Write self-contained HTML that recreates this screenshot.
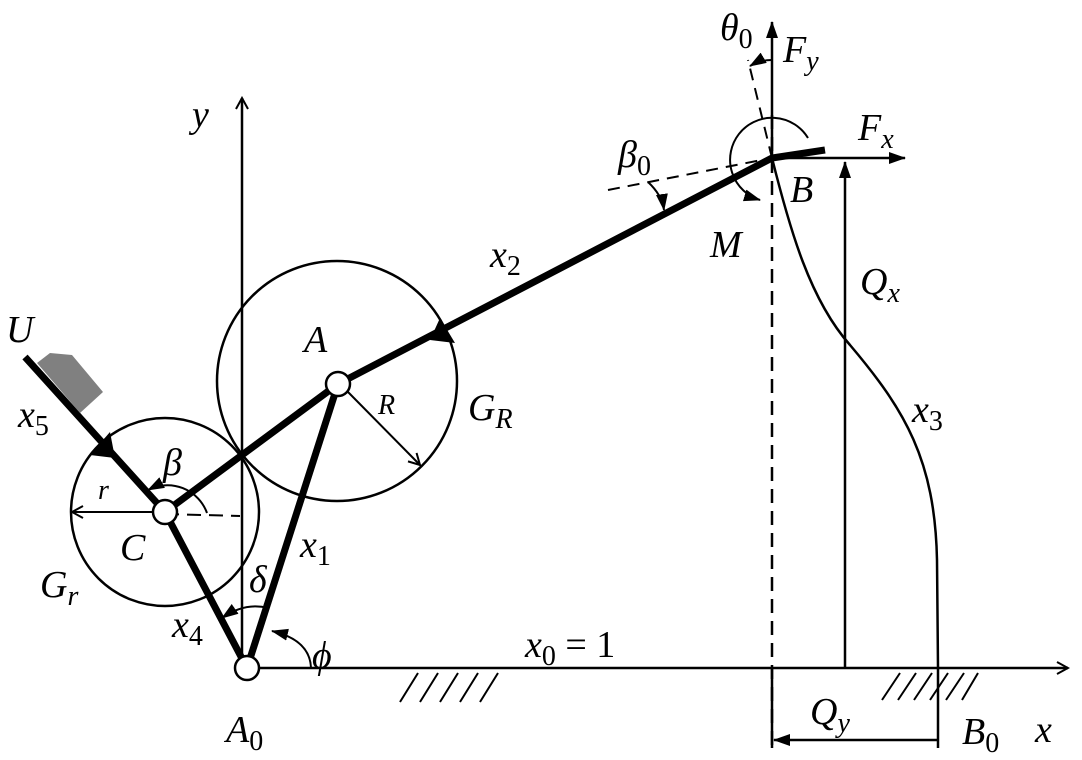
<!DOCTYPE html>
<html><head><meta charset="utf-8"><style>
html,body{margin:0;padding:0;background:#fff;}
svg{display:block;}
text{font-family:"Liberation Serif",serif;font-style:italic;fill:#000;}
.s{font-style:normal;}
</style></head><body>
<svg width="1082" height="760" viewBox="0 0 1082 760" xmlns="http://www.w3.org/2000/svg">
<defs>
<marker id="oa" markerWidth="14" markerHeight="14" refX="12" refY="7" orient="auto" markerUnits="userSpaceOnUse"><path d="M1,1 L12,7 L1,13" fill="none" stroke="#000" stroke-width="2"/></marker>
<marker id="fa" markerWidth="18" markerHeight="14" refX="16" refY="7" orient="auto" markerUnits="userSpaceOnUse"><path d="M0,1 L17,7 L0,13 Z" fill="#000"/></marker>
</defs>
<g stroke="#000" fill="none" stroke-width="2.5">
<line x1="242" y1="668" x2="242" y2="98" marker-end="url(#oa)"/>
<line x1="247" y1="668" x2="1068" y2="668" marker-end="url(#oa)"/>
<path d="M400,702 L418,673 M420,702 L438,673 M440,702 L458,673 M460,702 L478,673 M480,702 L498,673" stroke-width="2"/>
<path d="M882,700 L900,673 M898,700 L916,673 M914,700 L932,673 M930,700 L948,673 M946,700 L964,673 M962,700 L978,673" stroke-width="2"/>
<circle cx="337" cy="381" r="120"/>
<circle cx="165" cy="512" r="94"/>
<line x1="772" y1="115" x2="772" y2="745" stroke-dasharray="14,8"/>
<line x1="608" y1="190" x2="772" y2="158" stroke-dasharray="12,8" stroke-width="2"/>
<line x1="772" y1="158" x2="748" y2="60" stroke-dasharray="12,8" stroke-width="2"/>
<line x1="165" y1="514" x2="240" y2="516" stroke-dasharray="14,8" stroke-width="2"/>
<line x1="772" y1="158" x2="772" y2="22" marker-end="url(#fa)"/>
<line x1="772" y1="158" x2="905" y2="158" marker-end="url(#fa)"/>
<line x1="845" y1="668" x2="845" y2="162" marker-end="url(#fa)"/>
<line x1="938" y1="668" x2="938" y2="748"/>
<line x1="772" y1="668" x2="772" y2="748"/>
<line x1="938" y1="740" x2="774" y2="740" marker-end="url(#fa)"/>
<path d="M772,158 C790,230 810,300 850,345 C905,410 935,460 937,560 L938,668"/>
<line x1="152" y1="512" x2="72" y2="512" marker-end="url(#oa)" stroke-width="2"/>
<line x1="348" y1="392" x2="420" y2="465" marker-end="url(#oa)" stroke-width="2"/>
<path d="M772,60 Q760,60 750,66" marker-end="url(#fa)" stroke-width="2"/>
<path d="M648,182 Q662,195 664,210" marker-end="url(#fa)" stroke-width="2"/>
<path d="M808,138 A42,42 0 1 0 760,200" marker-end="url(#fa)" stroke-width="2"/>
<path d="M207,513 A42,42 0 0 0 148,490" marker-end="url(#fa)" stroke-width="2"/>
<path d="M268,608 Q245,602 222,618" marker-end="url(#fa)" stroke-width="2"/>
<path d="M311,668 Q310,640 272,631" marker-end="url(#fa)" stroke-width="2"/>
<g stroke-width="7" stroke-linecap="butt">
<line x1="247" y1="668" x2="338" y2="384"/>
<line x1="247" y1="668" x2="165" y2="512"/>
<line x1="165" y1="512" x2="338" y2="384"/>
<polyline points="338,384 772,158 825,150"/>
<line x1="165" y1="512" x2="25" y2="357"/>
</g>
</g>
<path d="M440,318 L455,343 L430,340 Z" fill="#000"/>
<path d="M110,432 L115,458 L90,455 Z" fill="#000"/>
<polygon points="37,363 50,353 72,355 103,392 80,413" fill="#808080"/>
<g fill="#fff" stroke="#000" stroke-width="2.5">
<circle cx="338" cy="384" r="12"/>
<circle cx="165" cy="512" r="12"/>
<circle cx="247" cy="668" r="12"/>
</g>
<g font-size="38">
<text x="192" y="127">y</text>
<text x="1035" y="742">x</text>
<text x="304" y="352">A</text>
<text x="120" y="560">C</text>
<text x="226" y="742">A<tspan font-size="28" dy="8" class="s">0</tspan></text>
<text x="962" y="744">B<tspan font-size="28" dy="8" class="s">0</tspan></text>
<text x="790" y="202">B</text>
<text x="710" y="257">M</text>
<text x="6" y="342">U</text>
<text x="18" y="427">x<tspan font-size="28" dy="8" class="s">5</tspan></text>
<text x="300" y="557">x<tspan font-size="28" dy="8" class="s">1</tspan></text>
<text x="490" y="267">x<tspan font-size="28" dy="8" class="s">2</tspan></text>
<text x="912" y="422">x<tspan font-size="28" dy="8" class="s">3</tspan></text>
<text x="172" y="637">x<tspan font-size="28" dy="8" class="s">4</tspan></text>
<text x="525" y="657">x<tspan font-size="28" dy="8" class="s">0</tspan><tspan dy="-8" class="s"> = 1</tspan></text>
<text x="468" y="420">G<tspan font-size="28" dy="8">R</tspan></text>
<text x="40" y="597">G<tspan font-size="28" dy="8">r</tspan></text>
<text x="860" y="294">Q<tspan font-size="28" dy="8">x</tspan></text>
<text x="810" y="724">Q<tspan font-size="28" dy="8">y</tspan></text>
<text x="858" y="140">F<tspan font-size="28" dy="8">x</tspan></text>
<text x="783" y="62">F<tspan font-size="28" dy="8">y</tspan></text>
<text x="720" y="40">θ<tspan font-size="28" dy="8" class="s">0</tspan></text>
<text x="618" y="167">β<tspan font-size="28" dy="8" class="s">0</tspan></text>
<text x="163" y="475">β</text>
<text x="249" y="592">δ</text>
<text x="312" y="668">ϕ</text>
<text x="378" y="414" font-size="28">R</text>
<text x="98" y="499" font-size="28">r</text>
</g>
</svg>
</body></html>
